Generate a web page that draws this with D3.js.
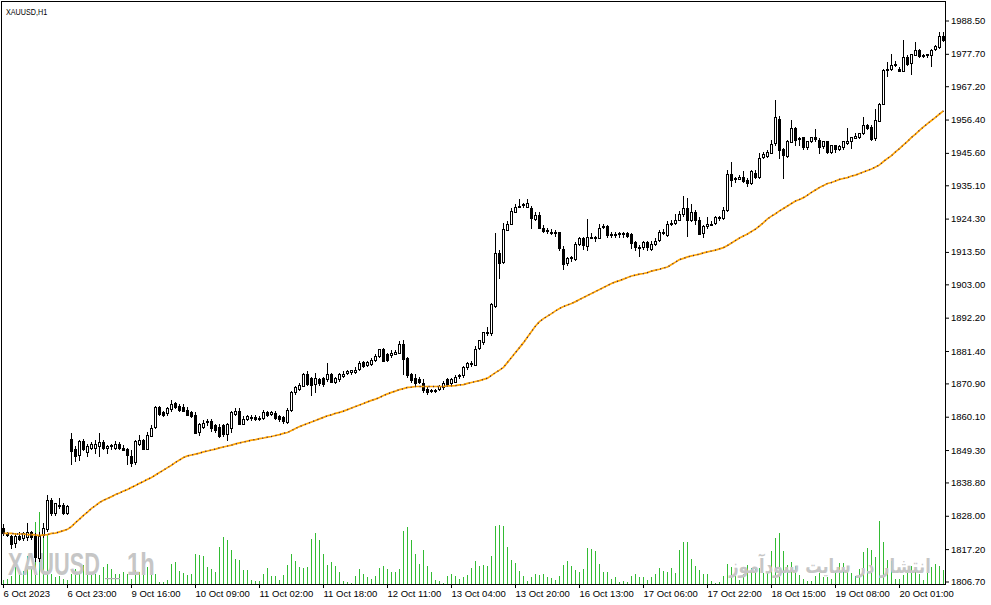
<!DOCTYPE html>
<html><head><meta charset="utf-8">
<script src="https://cdn.jsdelivr.net/npm/d3@7"></script>
<style>body{margin:0;background:#fff}svg{display:block}</style>
</head><body><svg id="c" width="991" height="605"></svg>
<script>
const open = [1823.9,1822.3,1821.6,1819.3,1821.6,1820.6,1821.0,1822.6,1821.3,1814.5,1821.6,1823.6,1833.0,1828.7,1831.3,1831.6,1829.1,
1853.0,1849.8,1847.5,1852.1,1848.5,1850.1,1850.1,1850.5,1851.8,1849.8,1850.5,1850.1,1851.4,1850.1,1849.5,1847.5,1845.3,1851.4,1852.7,1849.8,1854.0,1856.6,1863.1,1861.5,
1861.2,1862.4,1864.4,1863.7,1863.4,1862.4,1861.5,1860.8,1855.0,1856.9,1858.2,1858.6,1857.3,1856.9,1857.3,1854.3,1856.3,1861.2,1862.1,1857.9,1859.2,1859.9,1859.9,1859.5,
1859.5,1861.5,1860.8,1861.2,1860.2,1859.9,1858.6,1862.1,1868.0,1869.2,1870.2,1874.1,1872.8,1870.9,1872.2,1872.5,1872.5,1874.1,1871.2,1872.2,1873.5,1874.1,1874.4,1874.8,
1875.4,1877.7,1876.7,1877.4,1878.6,1879.6,1882.2,1880.3,1880.3,1880.6,1880.9,1883.8,1879.0,1873.8,1872.5,1872.2,1870.9,1869.2,1868.6,1868.6,1868.9,1869.6,1872.2,1870.9,
1871.5,1873.1,1873.5,1876.1,1877.0,1877.0,1882.2,1884.1,1887.4,1887.1,1896.1,1913.3,1910.1,1920.8,1922.7,1926.6,1928.2,1928.5,1928.2,1927.6,1924.3,1925.6,1921.4,1920.5,
1920.1,1919.8,1919.8,1914.6,1909.8,1911.4,1911.4,1915.9,1917.9,1915.6,1918.5,1918.5,1918.2,1921.4,1921.8,1919.2,1919.1,1919.2,1919.5,1919.5,1919.2,1916.6,1914.9,1914.9,
1916.6,1914.6,1916.2,1917.2,1919.8,1919.2,1922.7,1923.0,1924.0,1925.6,1927.6,1924.0,1926.6,1924.0,1919.5,1921.8,1922.4,1922.7,1924.7,1924.7,1927.2,1938.9,1937.0,1937.3,
1937.9,1936.7,1935.7,1939.2,1937.9,1944.1,1944.7,1945.7,1948.6,1956.7,1946.7,1944.7,1949.3,1953.8,1949.9,1950.6,1947.3,1949.3,1950.6,1949.9,1947.7,1949.3,1945.7,1948.0,
1946.7,1947.3,1949.0,1949.3,1950.6,1950.6,1951.9,1954.5,1954.1,1950.3,1956.1,1961.6,1972.6,1972.9,1974.2,1972.9,1972.3,1976.8,1974.6,1977.5,1979.1,1977.2,1977.5,1977.5,
1979.1,1980.1,1983.6];
const high = [1825.2,1822.9,1821.9,1822.3,1822.6,1822.9,1825.8,1823.2,1822.3,1822.6,1825.8,1834.6,1833.9,1832.3,1833.6,1832.0,1831.6,
1854.7,1850.5,1852.4,1853.0,1851.4,1851.8,1852.7,1854.7,1852.4,1850.8,1851.1,1852.1,1851.8,1850.8,1850.1,1849.2,1852.4,1854.3,1853.0,1855.0,1857.3,1863.7,1863.7,1862.1,
1863.4,1865.4,1865.0,1864.1,1864.1,1863.1,1862.1,1861.5,1858.2,1858.9,1859.2,1859.5,1857.9,1857.6,1857.9,1858.2,1862.1,1862.8,1862.8,1860.2,1860.8,1860.8,1860.5,1860.2,
1862.4,1862.1,1862.1,1861.8,1860.5,1860.2,1862.8,1868.3,1869.9,1870.9,1874.4,1874.8,1873.1,1874.4,1872.5,1873.1,1877.4,1874.4,1873.1,1874.4,1874.8,1875.4,1875.4,1876.1,
1878.0,1878.3,1878.3,1879.0,1880.3,1882.2,1882.5,1880.9,1881.6,1881.6,1884.5,1884.8,1879.6,1874.4,1873.8,1873.1,1872.2,1870.2,1869.2,1869.2,1870.5,1871.8,1872.5,1872.5,
1873.5,1873.8,1876.4,1877.7,1878.0,1882.9,1885.1,1887.7,1889.3,1897.1,1919.5,1914.0,1923.0,1923.4,1927.6,1928.9,1930.5,1929.5,1930.8,1928.5,1926.3,1926.3,1922.1,1921.1,
1920.8,1920.5,1920.1,1915.3,1912.0,1912.3,1916.6,1918.5,1918.5,1924.3,1919.5,1918.8,1922.4,1922.4,1922.1,1919.8,1919.8,1920.1,1920.1,1920.1,1919.5,1917.2,1915.6,1917.2,
1916.9,1916.9,1917.9,1920.5,1920.8,1923.4,1924.0,1925.9,1926.9,1931.5,1931.1,1928.9,1927.2,1924.7,1922.1,1924.7,1923.4,1925.0,1925.3,1928.2,1940.2,1942.8,1937.9,1938.3,
1939.6,1937.3,1939.9,1939.9,1945.7,1946.0,1946.4,1949.9,1962.6,1957.4,1947.3,1949.9,1956.4,1954.1,1950.6,1950.9,1949.6,1950.9,1953.2,1950.3,1949.6,1949.6,1948.3,1948.3,
1948.0,1949.6,1953.8,1950.9,1951.9,1952.2,1957.1,1954.8,1954.5,1959.7,1961.9,1972.9,1974.9,1977.5,1975.5,1973.3,1982.3,1977.2,1977.8,1981.4,1979.4,1977.8,1977.8,1979.4,
1980.4,1984.9,1984.9];
const low = [1821.9,1821.3,1817.7,1818.0,1820.3,1820.0,1820.3,1820.6,1813.5,1813.2,1821.0,1823.2,1828.4,1828.4,1830.4,1828.7,1828.7,
1844.9,1845.9,1846.2,1849.2,1847.5,1849.8,1848.2,1847.5,1849.5,1848.2,1849.8,1849.8,1849.8,1849.2,1844.9,1844.0,1844.9,1850.8,1849.5,1849.5,1853.7,1856.3,1860.5,1860.2,
1860.8,1861.8,1862.8,1862.1,1861.8,1860.5,1859.9,1854.7,1854.3,1856.3,1857.3,1855.6,1855.3,1853.4,1853.7,1852.7,1855.3,1860.8,1857.6,1857.6,1858.9,1858.9,1858.9,1858.9,
1859.2,1860.2,1860.5,1859.2,1858.6,1858.2,1858.2,1861.8,1867.6,1868.9,1869.9,1870.5,1867.3,1868.0,1870.5,1870.2,1871.8,1871.2,1870.9,1871.8,1873.1,1873.8,1874.1,1874.4,
1875.1,1876.1,1876.4,1877.0,1878.3,1879.3,1878.0,1878.0,1879.6,1880.3,1880.6,1873.8,1873.1,1871.5,1870.5,1870.9,1868.0,1867.6,1868.0,1868.0,1868.6,1869.2,1870.2,1870.5,
1871.2,1872.5,1873.1,1875.7,1876.4,1876.7,1881.9,1883.8,1886.7,1886.7,1895.8,1905.2,1909.8,1920.5,1922.4,1926.3,1927.9,1927.9,1927.9,1921.1,1924.0,1921.1,1919.8,1919.5,
1919.2,1918.8,1914.0,1908.1,1909.4,1910.7,1911.0,1915.6,1914.6,1914.0,1917.9,1917.2,1917.9,1921.1,1918.5,1918.5,1918.5,1918.5,1918.5,1918.2,1914.9,1914.0,1912.3,1914.3,
1914.0,1914.0,1915.6,1916.9,1919.2,1918.8,1922.1,1922.4,1923.7,1925.3,1918.8,1923.4,1922.7,1919.2,1918.5,1921.4,1922.1,1922.4,1923.7,1924.3,1926.9,1935.0,1936.3,1937.0,
1936.3,1935.0,1935.4,1937.6,1937.6,1943.8,1944.4,1945.4,1948.3,1943.8,1937.6,1944.4,1949.0,1948.0,1948.0,1947.0,1947.0,1949.0,1949.6,1945.7,1947.3,1945.4,1945.4,1946.0,
1946.4,1947.0,1948.6,1947.3,1950.3,1950.3,1951.6,1953.2,1949.9,1949.9,1955.8,1961.3,1970.4,1972.6,1973.9,1972.0,1972.0,1974.2,1971.3,1977.2,1976.8,1976.8,1976.8,1973.9,
1978.8,1979.7,1982.0];
const close = [1822.3,1821.6,1819.0,1821.6,1820.6,1822.3,1822.6,1821.0,1814.5,1821.6,1823.9,1833.0,1828.7,1832.0,1831.4,1829.1,1831.3,
1849.2,1847.5,1852.1,1849.5,1850.5,1851.4,1851.4,1851.8,1849.8,1850.5,1850.8,1851.4,1850.1,1849.5,1847.5,1845.3,1852.1,1852.7,1849.8,1854.3,1856.6,1863.1,1860.8,1860.5,
1862.8,1864.1,1863.1,1862.4,1862.1,1860.8,1860.2,1855.0,1857.6,1858.2,1858.6,1856.3,1855.6,1854.0,1854.3,1857.6,1861.5,1862.1,1857.9,1859.5,1860.2,1860.0,1859.2,1859.6,
1861.5,1860.5,1861.5,1859.5,1859.2,1858.6,1862.4,1868.0,1869.6,1870.5,1874.1,1870.9,1870.5,1872.8,1870.9,1870.5,1874.1,1871.5,1872.5,1873.8,1874.1,1874.8,1875.1,1875.4,
1877.4,1876.4,1877.7,1878.6,1879.9,1882.0,1878.3,1878.3,1880.9,1881.2,1883.8,1879.0,1873.5,1871.8,1870.9,1871.2,1868.6,1868.3,1868.5,1868.3,1869.9,1870.9,1870.5,1872.2,
1873.1,1873.5,1876.1,1877.4,1877.4,1882.2,1884.8,1887.4,1887.5,1896.5,1913.3,1910.1,1920.8,1922.7,1926.9,1928.2,1928.5,1928.9,1929.5,1924.3,1925.6,1921.4,1920.5,1920.1,
1919.8,1919.9,1914.6,1909.8,1911.4,1911.7,1916.2,1917.9,1915.6,1918.5,1918.4,1918.2,1921.4,1921.8,1918.8,1919.1,1919.3,1919.5,1919.2,1918.5,1916.2,1914.9,1915.0,1916.6,
1914.9,1916.2,1917.2,1919.8,1920.1,1922.7,1923.0,1924.0,1925.9,1927.6,1923.7,1926.6,1924.0,1919.5,1921.8,1922.4,1922.7,1924.7,1924.6,1927.2,1938.9,1937.0,1937.3,1937.9,
1936.7,1935.7,1939.6,1937.9,1944.1,1945.1,1946.0,1948.6,1957.1,1946.7,1944.7,1949.6,1953.8,1949.9,1950.3,1947.3,1949.3,1950.6,1949.9,1947.7,1949.3,1945.7,1948.0,1946.7,
1947.7,1949.3,1949.6,1950.6,1951.2,1951.9,1954.5,1953.5,1950.3,1956.1,1961.6,1972.6,1972.9,1974.2,1974.3,1972.3,1976.8,1974.6,1977.5,1979.1,1977.2,1977.4,1977.2,1979.1,
1980.1,1983.6,1982.3];
const volume = [370,530,770,1700,1200,1300,2800,1800,6200,7200,5500,4900,1000,700,800,500,400,
1000,1500,1200,1900,900,1100,1000,900,1700,2000,1500,1000,1000,1200,1000,500,1400,1200,1700,1700,1500,1000,200,200,
400,2000,2200,1300,1100,900,1000,3000,2900,2800,1700,1500,1200,3700,4700,4400,3400,2500,2400,1430,1430,430,270,330,
1030,1630,830,830,430,930,1930,3030,2330,1730,1630,1730,4530,5130,4430,3030,1930,2230,1830,1230,330,230,130,830,
1530,1030,730,530,830,1630,1830,1530,1230,1230,1530,5330,5730,4430,3030,2030,3430,1830,1230,430,330,130,830,1030,
830,530,730,930,1630,2330,1830,1930,1830,2830,5830,5930,5830,3730,2430,2130,1330,830,330,730,1030,930,1030,730,
630,430,830,1930,2330,1830,1430,1230,1530,3630,3530,3330,2030,1230,1230,530,730,230,330,230,830,1030,730,700,
400,670,1000,1570,1330,1230,1570,1130,3400,4200,4200,2500,1800,1400,1000,1000,330,130,230,800,2000,1730,800,400,
1000,1900,1570,1570,1570,1130,1130,3300,4600,5100,3300,1900,2200,1800,900,500,330,300,800,1130,730,730,530,1330,
2130,2130,1800,1130,800,1470,3230,3600,3400,2730,6300,4200,2400,2300,530,530,900,1300,1800,1300,1000,400,1130,1670,
2000,1800,1400];
const ma = [1822.3,1822.3,1822.3,1822.1,1822.1,1822.1,1821.9,1821.9,1821.8,1821.6,1821.8,1821.9,1822.3,1822.4,1822.8,1823.2,1823.6,
1824.5,1825.8,1826.9,1828.1,1829.2,1830.4,1831.3,1832.3,1833.0,1833.6,1834.2,1834.9,1835.4,1836.0,1836.5,1837.2,1837.8,1838.5,1839.1,1839.8,1840.4,1841.2,1842.0,1842.8,
1843.6,1844.4,1845.3,1846.1,1846.9,1847.4,1847.7,1848.0,1848.3,1848.7,1849.0,1849.3,1849.6,1850.0,1850.3,1850.6,1850.9,1851.3,1851.6,1851.9,1852.2,1852.5,1852.7,1853.0,
1853.2,1853.5,1853.7,1854.0,1854.3,1854.7,1855.0,1855.6,1856.3,1856.9,1857.4,1857.9,1858.4,1858.9,1859.4,1859.9,1860.4,1860.7,1861.2,1861.5,1861.9,1862.4,1862.9,1863.4,
1863.9,1864.4,1864.9,1865.4,1865.8,1866.3,1867.0,1867.5,1868.0,1868.4,1868.9,1869.2,1869.6,1869.7,1869.9,1869.9,1869.9,1869.9,1869.9,1869.9,1869.9,1869.9,1870.1,1870.1,
1870.2,1870.4,1870.5,1870.9,1871.2,1871.5,1871.8,1872.2,1872.6,1873.5,1874.4,1875.2,1876.1,1877.7,1879.3,1880.9,1882.5,1884.1,1885.9,1887.7,1889.5,1890.9,1891.9,1892.7,
1893.5,1894.4,1895.2,1895.8,1896.3,1896.8,1897.4,1898.1,1898.7,1899.4,1900.0,1900.7,1901.3,1902.0,1902.6,1903.3,1903.8,1904.2,1904.7,1905.2,1905.7,1906.0,1906.3,1906.5,
1906.8,1907.3,1907.6,1907.9,1908.3,1908.6,1909.4,1910.2,1911.0,1911.4,1911.9,1912.2,1912.5,1912.8,1913.2,1913.5,1913.8,1914.1,1914.5,1914.9,1915.6,1916.4,1917.2,1918.0,
1918.7,1919.3,1920.1,1920.9,1921.9,1923.0,1924.2,1925.1,1925.9,1926.8,1927.6,1928.4,1929.2,1930.0,1930.5,1931.1,1931.9,1932.8,1933.6,1934.4,1935.0,1935.7,1936.0,1936.5,
1937.0,1937.3,1937.6,1938.1,1938.4,1938.9,1939.4,1939.9,1940.4,1941.0,1941.7,1942.8,1943.8,1944.7,1945.9,1947.0,1948.2,1949.3,1950.6,1951.7,1952.9,1954.0,1955.1,1956.1,
1957.1,1958.2,1959.2];
const labelBars = [0,16,32,48,64,80,96,112,128,144,160,176,192,208,224];
const timeLabels = ["6 Oct 2023","6 Oct 23:00","9 Oct 16:00","10 Oct 09:00","11 Oct 02:00","11 Oct 18:00","12 Oct 11:00","13 Oct 04:00","13 Oct 20:00","16 Oct 13:00","17 Oct 06:00","17 Oct 22:00","18 Oct 15:00","19 Oct 08:00","20 Oct 01:00"];
const priceTicks = [1988.50,1977.70,1967.20,1956.40,1945.60,1935.10,1924.30,1913.50,1903.00,1892.20,1881.40,1870.90,1860.10,1849.30,1838.80,1828.00,1817.20,1806.70];

const svg = d3.select("#c");
const n = close.length;
const x = d3.scaleLinear().domain([0, n - 1]).range([3, 943]);
const y = d3.scaleLinear().domain([1806.7, 1988.5]).range([581.5, 20.5]);
const yv = d3.scaleLinear().domain([0, 10000]).range([584, 484]);
const idx = d3.range(n);
const font = "'Liberation Sans', Arial, sans-serif";

svg.append("rect").attr("width", 991).attr("height", 605).attr("fill", "#fff");

// volume
svg.append("g").attr("shape-rendering", "crispEdges").selectAll("rect").data(idx).join("rect")
  .attr("x", i => Math.round(x(i)))
  .attr("width", 1)
  .attr("y", i => yv(volume[i]))
  .attr("height", i => 584 - yv(volume[i]))
  .attr("fill", "#33bb33");

// watermarks
const wm = svg.append("g").attr("fill", "#c6c6c6");
wm.append("text").attr("transform", "translate(8,575) scale(0.68,1)").attr("font-family", font)
  .attr("font-weight", "bold").attr("font-size", 32).text("XAUUSD");
wm.append("text").attr("transform", "translate(127,575) scale(0.74,1)").attr("font-family", font)
  .attr("font-weight", "bold").attr("font-size", 32).text("1h");
wm.append("rect").attr("x", 105).attr("y", 578).attr("width", 15).attr("height", 1.2).attr("fill", "#b0b0b0");
wm.append("text").attr("transform", "translate(830,573) scale(0.82,1)").attr("font-family", "'DejaVu Sans', sans-serif")
  .attr("font-weight", "bold").attr("font-size", 20).attr("text-anchor", "middle").attr("direction", "rtl")
  .text("انتشار در سایت سودآموز");

// candles
const cg = svg.append("g").attr("shape-rendering", "crispEdges");
cg.selectAll("line").data(idx).join("line")
  .attr("x1", i => Math.round(x(i)) + 0.5).attr("x2", i => Math.round(x(i)) + 0.5)
  .attr("y1", i => Math.round(y(high[i]))).attr("y2", i => Math.round(y(low[i])) + 1)
  .attr("stroke", "#000").attr("stroke-width", 1);
cg.selectAll("rect").data(idx).join("rect")
  .attr("x", i => Math.round(x(i)) - 0.5)
  .attr("width", 2)
  .attr("y", i => Math.round(y(Math.max(open[i], close[i]))) + 0.5)
  .attr("height", i => Math.max(1, Math.round(Math.abs(y(open[i]) - y(close[i])))))
  .attr("fill", i => close[i] >= open[i] ? "#fff" : "#000")
  .attr("stroke", "#000").attr("stroke-width", 1);

// moving average
const line = d3.line().x((d, i) => x(i) + 0.5).y(d => y(d));
svg.append("path").datum(ma).attr("d", line).attr("fill", "none").attr("stroke", "#ffa500").attr("stroke-width", 1.7);
svg.append("path").datum(ma).attr("d", line).attr("fill", "none").attr("stroke", "#3c1e5a")
  .attr("stroke-width", 1.3).attr("stroke-dasharray", "1,3.5");

// axes
const yAxis = d3.axisRight(y).tickValues(priceTicks).tickSize(4).tickSizeOuter(0).tickPadding(2)
  .tickFormat(d3.format(".2f"));
const ga = svg.append("g").attr("transform", "translate(945,0)").call(yAxis);
ga.select(".domain").remove();
ga.selectAll("text").attr("font-family", font).attr("font-size", 9.5).attr("fill", "#000");
ga.selectAll("line").attr("stroke", "#000");

const xAxis = d3.axisBottom(x).tickValues(labelBars).tickSize(4).tickSizeOuter(0).tickPadding(2)
  .tickFormat((d, i) => timeLabels[i]);
const gx = svg.append("g").attr("transform", "translate(0,584)").call(xAxis);
gx.select(".domain").remove();
gx.selectAll("text").attr("font-family", font).attr("font-size", 9.5).attr("fill", "#000")
  .attr("text-anchor", "start").attr("x", 0);
gx.selectAll("line").attr("stroke", "#000");

// frame
svg.append("rect").attr("x", 1.5).attr("y", 1.5).attr("width", 944).attr("height", 583)
  .attr("fill", "none").attr("stroke", "#000").attr("shape-rendering", "crispEdges");

// title
svg.append("text").attr("transform", "translate(6,15) scale(0.76,1)").attr("font-family", font)
  .attr("font-size", 9.5).text("XAUUSD,H1");
</script></body></html>
